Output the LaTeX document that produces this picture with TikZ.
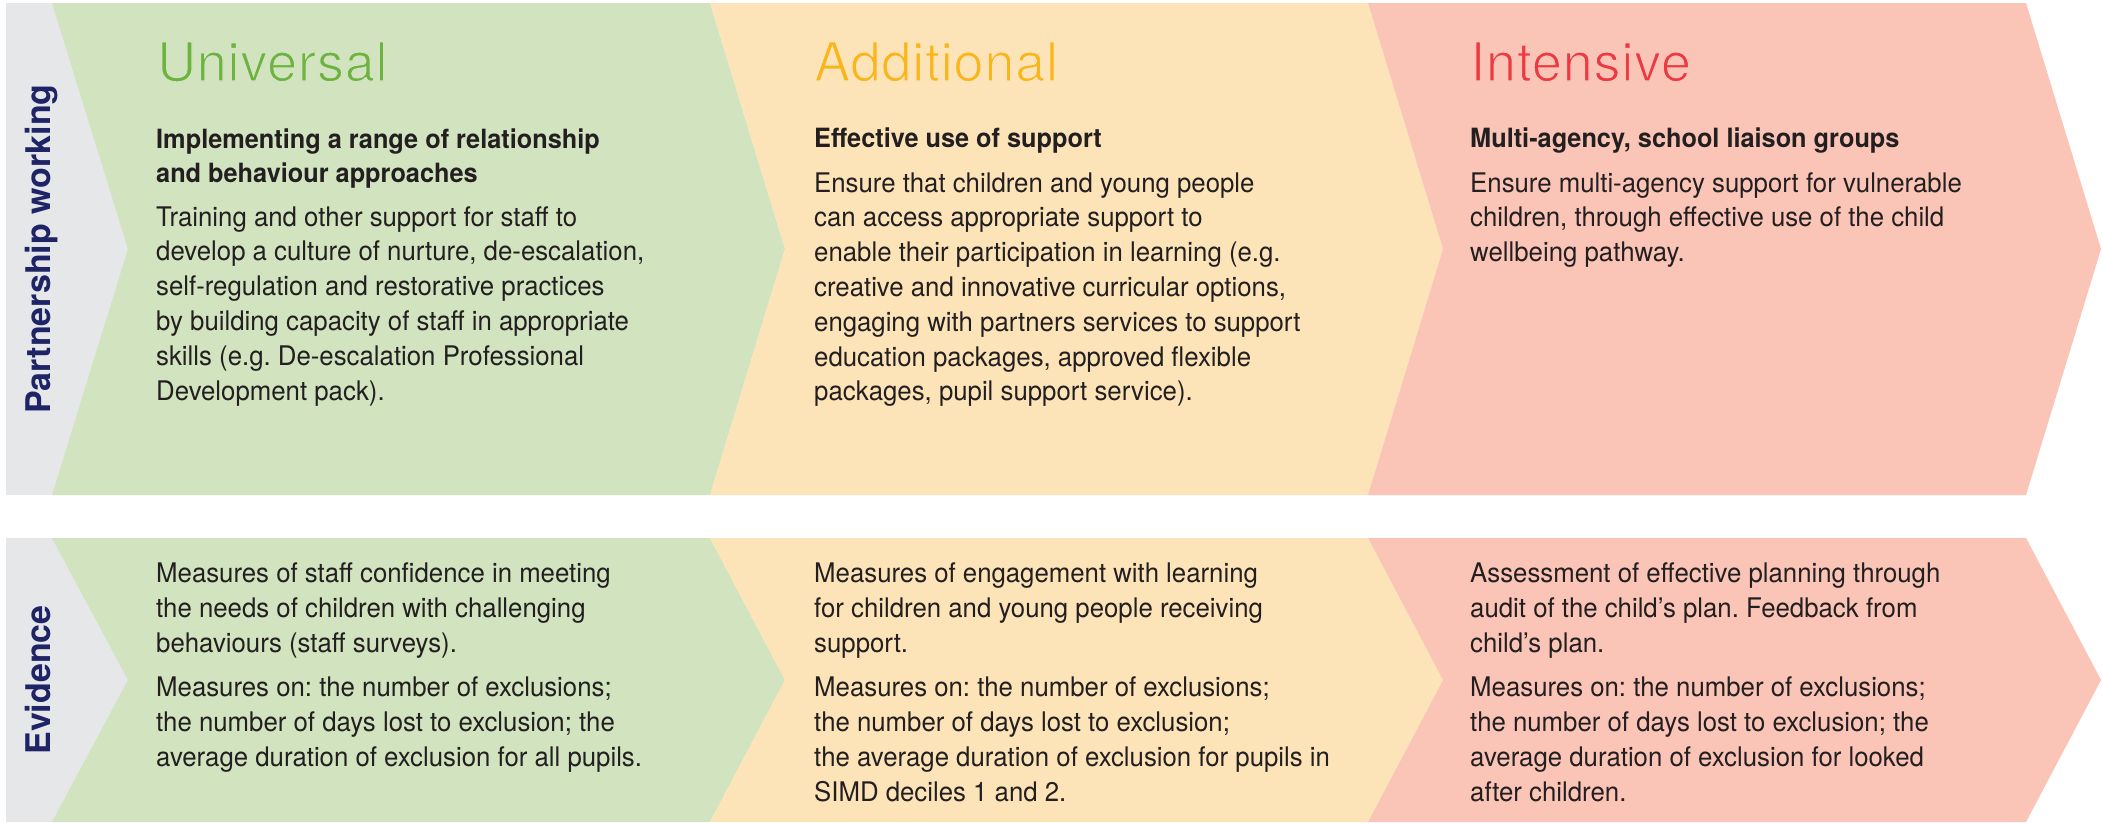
\documentclass[tikz,border=0pt]{standalone}
\usepackage{fontspec}
\setmainfont{TeX Gyre Heros}
\newfontfamily\bodyfont[FakeStretch=0.955]{TeX Gyre Heros}
\newfontfamily\titlefont[LetterSpace=1.5]{TeX Gyre Heros}
\definecolor{greenfill}{HTML}{D1E3BF}
\definecolor{yellowfill}{HTML}{FDE4B8}
\definecolor{redfill}{HTML}{FAC4B6}
\definecolor{greyfill}{HTML}{E6E7E9}
\definecolor{greentitle}{HTML}{6DB33F}
\definecolor{yellowtitle}{HTML}{F9B51A}
\definecolor{redtitle}{HTML}{EE3942}
\definecolor{navy}{HTML}{1F2466}
\definecolor{ink}{HTML}{231F20}
% thin the title glyphs: stroke their outlines in the background colour
\newcommand{\lighttitle}[2]{\special{pdf:code 2 Tr #1 RG 1.3 w}#2\special{pdf:code 0 Tr 0.4 w}}
\frenchspacing
\begin{document}
% note: for multi-line nodes the base anchor is the baseline of the LAST line
\begin{tikzpicture}[x=1pt,y=-1pt,
  titletext/.style={anchor=base west, inner sep=0pt, font=\titlefont\fontsize{54}{60}\selectfont},
  headtext/.style={anchor=base west, inner sep=0pt, align=left, text=ink, font=\bodyfont\bfseries\fontsize{26.5}{34}\selectfont},
  bodytext/.style={anchor=base west, inner sep=0pt, align=left, text=ink, font=\bodyfont\fontsize{27}{34.8}\selectfont},
  evtext/.style={anchor=base west, inner sep=0pt, align=left, text=ink, font=\bodyfont\fontsize{27}{35.3}\selectfont},
  sidetext/.style={rotate=90, anchor=base, inner sep=0pt, text=navy, font=\bfseries\fontsize{34}{40}\selectfont}]
\useasboundingbox (0,0) rectangle (2103,822);
\fill[white] (0,0) rectangle (2103,822);
% ---------- top row ----------
\fill[greyfill] (6,3) rectangle (200,495);
\fill[greenfill] (52,3) -- (710,3) -- (785,249) -- (710,495) -- (52,495) -- (128,249) -- cycle;
\fill[yellowfill] (710,3) -- (1368,3) -- (1443,249) -- (1368,495) -- (710,495) -- (785,249) -- cycle;
\fill[redfill] (1368,3) -- (2026,3) -- (2101,249) -- (2026,495) -- (1368,495) -- (1443,249) -- cycle;
% ---------- bottom row ----------
\fill[greyfill] (6,538) rectangle (200,822);
\fill[greenfill] (52,538) -- (710,538) -- (785,680) -- (710,822) -- (52,822) -- (128,680) -- cycle;
\fill[yellowfill] (710,538) -- (1368,538) -- (1443,680) -- (1368,822) -- (710,822) -- (785,680) -- cycle;
\fill[redfill] (1368,538) -- (2026,538) -- (2101,680) -- (2026,822) -- (1368,822) -- (1443,680) -- cycle;
% ---------- side labels ----------
\node[sidetext] (pw) at (50,249) {Partnership working};
\node[sidetext] (ev) at (50,680) {Evidence};
% ---------- titles ----------
\node[titletext, text=greentitle] (t1) at (157,81) {\lighttitle{0.820 0.890 0.749}{Universal}};
\node[titletext, text=yellowtitle] (t2) at (814,81) {\lighttitle{0.992 0.894 0.722}{Additional}};
\node[titletext, text=redtitle] (t3) at (1470,81) {\lighttitle{0.980 0.769 0.714}{Intensive}};
% ---------- universal ----------
\node[headtext] (h1) at (156,182) {Implementing a range of relationship\\and behaviour approaches};
\node[bodytext] (b1) at (156,400) {Training and other support for staff to\\develop a culture of nurture, de-escalation,\\self-regulation and restorative practices\\by building capacity of staff in appropriate\\skills (e.g. De-escalation Professional\\Development pack).};
% ---------- additional ----------
\node[headtext] (h2) at (814,147) {Effective use of support};
\node[bodytext] (b2) at (814,400.8) {Ensure that children and young people\\can access appropriate support to\\enable their participation in learning (e.g.\\creative and innovative curricular options,\\engaging with partners services to support\\education packages, approved flexible\\packages, pupil support service).};
% ---------- intensive ----------
\node[headtext] (h3) at (1470,147) {Multi-agency, school liaison groups};
\node[bodytext] (b3) at (1470,261.6) {Ensure multi-agency support for vulnerable\\children, through effective use of the child\\wellbeing pathway.};
% ---------- evidence ----------
\node[evtext] (e1a) at (156,652.6) {Measures of staff confidence in meeting\\the needs of children with challenging\\behaviours (staff surveys).};
\node[evtext] (e1b) at (156,766.6) {Measures on: the number of exclusions;\\the number of days lost to exclusion; the\\average duration of exclusion for all pupils.};
\node[evtext] (e2a) at (814,652.6) {Measures of engagement with learning\\for children and young people receiving\\support.};
\node[evtext] (e2b) at (814,801.9) {Measures on: the number of exclusions;\\the number of days lost to exclusion;\\the average duration of exclusion for pupils in\\SIMD deciles 1 and 2.};
\node[evtext] (e3a) at (1470,652.6) {Assessment of effective planning through\\audit of the child’s plan. Feedback from\\child’s plan.};
\node[evtext] (e3b) at (1470,801.9) {Measures on: the number of exclusions;\\the number of days lost to exclusion; the\\average duration of exclusion for looked\\after children.};
\end{tikzpicture}
\end{document}
